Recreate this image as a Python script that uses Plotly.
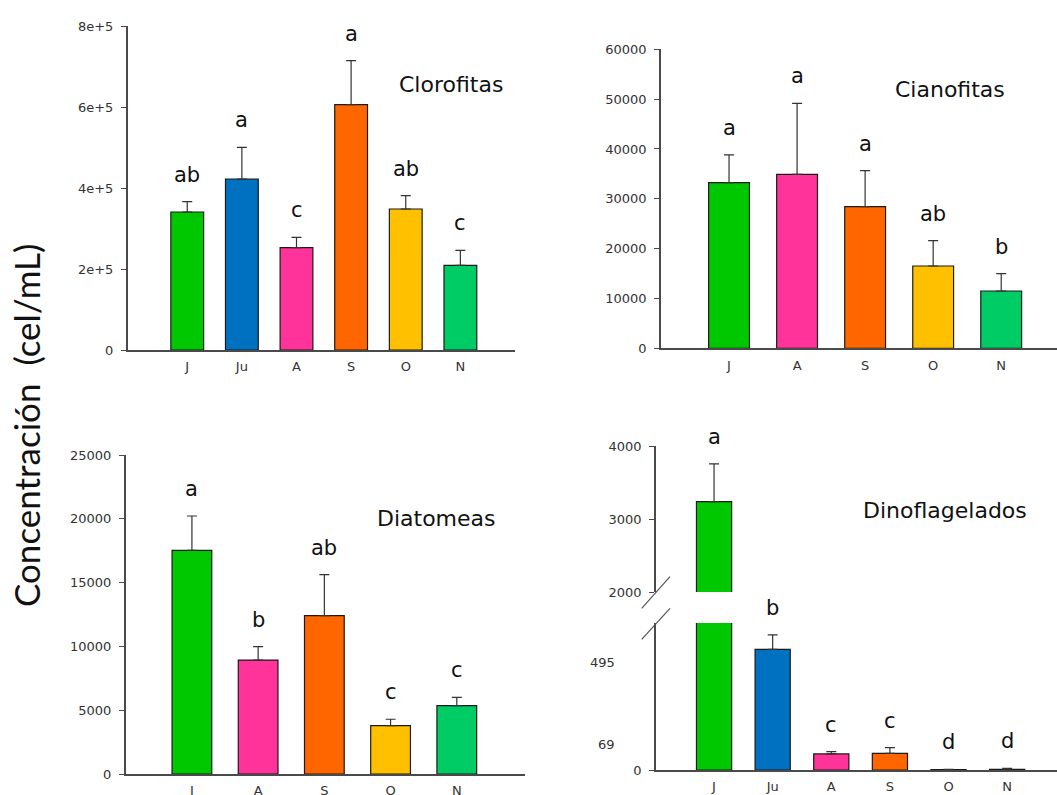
import plotly.graph_objects as go

W, H = 1057, 795

# ---------------- data ----------------
month_colors = {"J": "#00C800", "Ju": "#0070C0", "A": "#FF3399",
                "S": "#FF6600", "O": "#FFC000", "N": "#00CC66"}

clo_months = ["J", "Ju", "A", "S", "O", "N"]
clo_mean = [340700, 422200, 252700, 605800, 348100, 209100]
clo_err = [25600, 78200, 25500, 108600, 33000, 37000]
clo_letters = ["ab", "a", "c", "a", "ab", "c"]
clo_ticks = [0, 200000, 400000, 600000, 800000]
clo_ticktext = ["0", "2e+5", "4e+5", "6e+5", "8e+5"]

cia_months = ["J", "A", "S", "O", "N"]
cia_mean = [33240, 34920, 28430, 16520, 11500]
cia_err = [5560, 14240, 7220, 5090, 3480]
cia_letters = ["a", "a", "a", "ab", "b"]
cia_ticks = [0, 10000, 20000, 30000, 40000, 50000, 60000]

dia_months = ["J", "A", "S", "O", "N"]
dia_mean = [17530, 8930, 12410, 3790, 5360]
dia_err = [2690, 1045, 3210, 500, 650]
dia_letters = ["a", "b", "ab", "c", "c"]
dia_ticks = [0, 5000, 10000, 15000, 20000, 25000]

din_months = ["J", "Ju", "A", "S", "O", "N"]
din_mean = [3239, 495, 66, 68, 2, 3]
din_err = [515, 59, 9, 24, 1, 4]
din_letters = ["a", "b", "c", "c", "d", "d"]
din_upper_ticks = [2000, 3000, 4000]
din_lower_ticks = [0]
din_side_labels = [495, 69]

ylabel = "Concentración\u00a0\u00a0(cel/mL)"

# ---------------- helpers ----------------
def px_x(p):
    return p / W

def px_y(p):
    return 1 - p / H

FONT = "DejaVu Sans, Arial, sans-serif"
AXIS_COLOR = "#4a4a4a"
TEXT_COLOR = "#333333"

fig = go.Figure()


def add_bars(months, mean, err, xa, ya):
    fig.add_trace(go.Bar(
        x=months, y=mean, xaxis=xa, yaxis=ya, width=0.6,
        marker=dict(color=[month_colors[m] for m in months],
                    line=dict(color="#1a1a1a", width=1.2)),
        error_y=dict(type="data", array=err, arrayminus=[0] * len(err),
                     symmetric=False, color="#333333", thickness=1.2, width=5),
        showlegend=False, hoverinfo="x+y",
    ))


def add_letters(months, mean, err, letters, xref, yref):
    for m, v, e, t in zip(months, mean, err, letters):
        fig.add_annotation(x=m, y=v + e, xref=xref, yref=yref, text=t,
                           showarrow=False, yanchor="bottom", yshift=13,
                           font=dict(family=FONT, size=21, color="#111111"))


def yaxis_style(domain, rng, tickvals, ticktext=None, anchor="x"):
    d = dict(domain=domain, range=rng, anchor=anchor, showline=True,
             linecolor=AXIS_COLOR, linewidth=1.5, ticks="outside", ticklen=5,
             tickcolor=AXIS_COLOR, tickwidth=1.2, tickvals=tickvals,
             tickformat="d", automargin=False,
             showgrid=False, zeroline=False, ticklabelstandoff=5,
             tickfont=dict(family=FONT, size=13, color=TEXT_COLOR), fixedrange=True)
    if ticktext is not None:
        d["ticktext"] = ticktext
    return d


def xaxis_style(domain, rng, anchor="y", visible=True):
    return dict(domain=domain, range=rng, anchor=anchor, type="category",
                showline=visible, linecolor=AXIS_COLOR, linewidth=1.5,
                ticks="", showgrid=False, zeroline=False, showticklabels=visible,
                ticklabelstandoff=4, automargin=False,
                tickfont=dict(family=FONT, size=13, color=TEXT_COLOR), fixedrange=True)


# ---- panel 1: Clorofitas
add_bars(clo_months, clo_mean, clo_err, "x", "y")
add_letters(clo_months, clo_mean, clo_err, clo_letters, "x", "y")
# ---- panel 2: Cianofitas
add_bars(cia_months, cia_mean, cia_err, "x2", "y2")
add_letters(cia_months, cia_mean, cia_err, cia_letters, "x2", "y2")
# ---- panel 3: Diatomeas
add_bars(dia_months, dia_mean, dia_err, "x3", "y3")
add_letters(dia_months, dia_mean, dia_err, dia_letters, "x3", "y3")
# ---- panel 4: Dinoflagelados (broken axis: lower y4, upper y5)
lower_top = 603
add_bars(din_months, din_mean, din_err, "x4", "y4")
add_bars(din_months, din_mean, din_err, "x5", "y5")
for m, v, e, t in zip(din_months, din_mean, din_err, din_letters):
    yr = "y5" if v + e > lower_top else "y4"
    xr = "x5" if yr == "y5" else "x4"
    fig.add_annotation(x=m, y=v + e, xref=xr, yref=yr, text=t,
                       showarrow=False, yanchor="bottom", yshift=13,
                       font=dict(family=FONT, size=21, color="#111111"))
for v, sh in zip(din_side_labels, [-13, 9]):
    fig.add_annotation(x=px_x(617), xref="paper", xanchor="right", y=v, yref="y4",
                       yshift=sh, text=str(v), showarrow=False,
                       font=dict(family=FONT, size=13, color=TEXT_COLOR))

# break marks
for y0, y1 in [(608.3, 576.7), (639.3, 608.3)]:
    fig.add_shape(type="line", xref="paper", yref="paper",
                  x0=px_x(641.7), y0=px_y(y0), x1=px_x(670), y1=px_y(y1),
                  line=dict(color="#555555", width=1.2))

# panel titles
for txt, cx, cy in [("Clorofitas", 451, 85), ("Cianofitas", 950, 90),
                    ("Diatomeas", 436, 518), ("Dinoflagelados", 945, 510)]:
    fig.add_annotation(x=px_x(cx), y=px_y(cy), xref="paper", yref="paper",
                       text=txt, showarrow=False, xanchor="center", yanchor="middle",
                       font=dict(family=FONT, size=22, color="#111111"))

# global y label
fig.add_annotation(x=px_x(26), y=px_y(426), xref="paper", yref="paper", text=ylabel,
                   textangle=-90, showarrow=False, xanchor="center", yanchor="middle",
                   font=dict(family="Lato, Open Sans, sans-serif", size=35, color="#111111"))

fig.update_layout(
    width=W, height=H, margin=dict(l=0, r=0, t=0, b=0, pad=0, autoexpand=False),
    autosize=False,
    paper_bgcolor="white", plot_bgcolor="white", showlegend=False, bargap=0.4,
    xaxis=xaxis_style([px_x(127.7), px_x(515)], [-1.09, 6.0], anchor="y"),
    yaxis=yaxis_style([px_y(350), px_y(26)], [0, 800000], clo_ticks, clo_ticktext, anchor="x"),
    xaxis2=xaxis_style([px_x(661), 1.0], [-1.0, 4.82], anchor="y2"),
    yaxis2=yaxis_style([px_y(348.3), px_y(49.3)], [0, 60000], cia_ticks, anchor="x2"),
    xaxis3=xaxis_style([px_x(125.7), px_x(525)], [-1.0, 5.03], anchor="y3"),
    yaxis3=yaxis_style([px_y(774), px_y(455)], [0, 25000], dia_ticks, anchor="x3"),
    xaxis4=xaxis_style([px_x(656), 1.0], [-0.99, 5.85], anchor="y4"),
    yaxis4=yaxis_style([px_y(770), px_y(623)], [0, lower_top], din_lower_ticks, anchor="x4"),
    xaxis5=xaxis_style([px_x(656), 1.0], [-0.99, 5.85], anchor="y5", visible=False),
    yaxis5=yaxis_style([px_y(592), px_y(446)], [2000, 4000], din_upper_ticks, anchor="x5"),
)

fig.write_html("out.html", config={"displayModeBar": False, "responsive": False},
               post_script="document.body.style.margin='0';document.body.style.overflow='hidden';")
